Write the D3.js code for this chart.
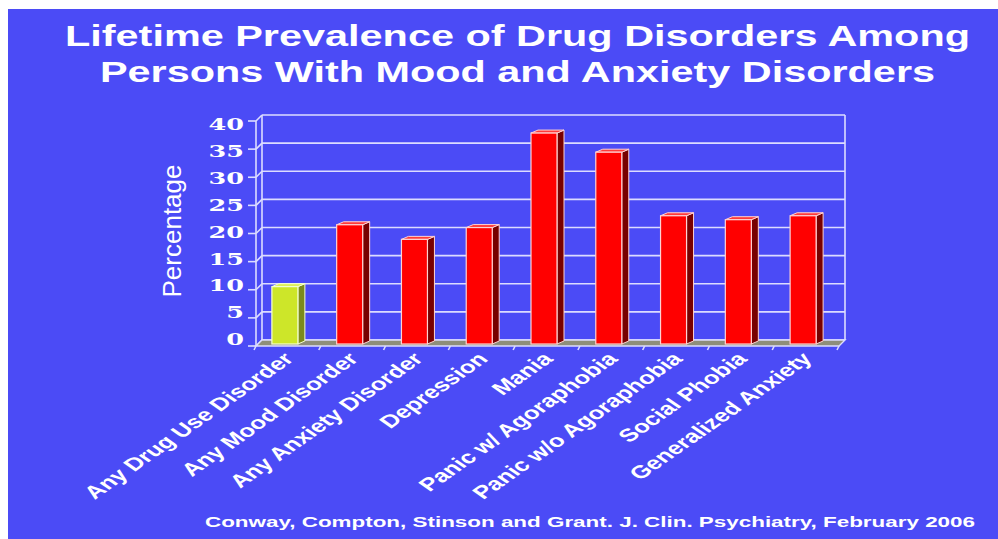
<!DOCTYPE html>
<html>
<head>
<meta charset="utf-8">
<script src="https://cdn.jsdelivr.net/npm/d3@7"></script>
<style>
  html, body { margin: 0; padding: 0; background: #ffffff; }
  svg { display: block; }
</style>
</head>
<body>
<svg id="chart" width="998" height="539"></svg>
<script>
// Lifetime prevalence (%) of any drug use disorder, overall and by mood/anxiety disorder
const categories = [
  "Any Drug Use Disorder", "Any Mood Disorder", "Any Anxiety Disorder",
  "Depression", "Mania", "Panic w/ Agoraphobia", "Panic w/o Agoraphobia",
  "Social Phobia", "Generalized Anxiety"
];
const values = [10.2, 21.2, 18.6, 20.7, 37.5, 34.1, 22.8, 22.1, 22.8];
const highlighted = ["Any Drug Use Disorder"];
const yTicks = [0, 5, 10, 15, 20, 25, 30, 35, 40];
const titleLines = [
  "Lifetime Prevalence of Drug Disorders Among",
  "Persons With Mood and Anxiety Disorders"
];
const sourceNote = "Conway, Compton, Stinson and Grant. J. Clin. Psychiatry, February 2006";
const yTitle = "Percentage";

const svg = d3.select("#chart");
const W = 998, H = 539;

const BG = "#4b4bf6";
const GRID = "#dcdcff";

// slide panel
svg.append("rect").attr("x", 8).attr("y", 9).attr("width", W - 8).attr("height", H - 9).attr("fill", BG);

// title
svg.append("g").selectAll("text").data(titleLines).join("text")
  .attr("x", (d, i) => i === 0 ? 65 : 100)
  .attr("y", (d, i) => i === 0 ? 46 : 81.5)
  .attr("textLength", (d, i) => i === 0 ? 905 : 835)
  .attr("lengthAdjust", "spacingAndGlyphs")
  .attr("font-family", "'Liberation Sans', Arial, sans-serif")
  .attr("font-weight", "bold")
  .attr("font-size", 29)
  .attr("fill", "#ffffff")
  .text(d => d);

// scales for the back wall of the 3-D plot
const x = d3.scaleBand().domain(categories).range([262, 845]);
const y = d3.scaleLinear().domain([0, 40]).range([340, 115]);
// tick labels sit along the front edge of the axis
const yLabel = d3.scaleLinear().domain([0, 40]).range([339, 124]);

const depth = { dx: -6, dy: 6 };       // back wall -> front edge of floor
const barShift = { dx: -9.5, dy: 4 };  // back wall -> bar front faces
const barDepth = { dx: 7, dy: -3 };    // bar front face -> bar back face
const barW = 26;

const [x0, x1] = x.range();
const gridG = svg.append("g").attr("stroke", GRID).attr("stroke-width", 1.6).attr("fill", "none");

// floor
svg.append("path")
  .attr("d", `M${x0},${y(0)} L${x1},${y(0)} L${x1 + depth.dx},${y(0) + depth.dy} L${x0 + depth.dx},${y(0) + depth.dy} Z`)
  .attr("fill", "#8e8e7a").attr("stroke", GRID).attr("stroke-width", 1.4);

// back wall gridlines
gridG.selectAll("line.h").data(yTicks).join("line")
  .attr("x1", x0).attr("x2", x1)
  .attr("y1", d => y(d)).attr("y2", d => y(d));
// back wall edges
gridG.append("line").attr("x1", x0).attr("x2", x0).attr("y1", y(40)).attr("y2", y(0));
gridG.append("line").attr("x1", x1).attr("x2", x1).attr("y1", y(40)).attr("y2", y(0));
// left side wall
gridG.append("line").attr("x1", x0 + depth.dx).attr("x2", x0 + depth.dx)
  .attr("y1", y(40) + depth.dy).attr("y2", y(0) + depth.dy);
gridG.selectAll("line.s").data(yTicks).join("line")
  .attr("x1", x0).attr("y1", d => y(d))
  .attr("x2", x0 + depth.dx).attr("y2", d => y(d) + depth.dy);
// axis ticks
gridG.selectAll("line.t").data(yTicks).join("line")
  .attr("x1", x0 + depth.dx).attr("y1", d => y(d) + depth.dy)
  .attr("x2", x0 + depth.dx - 8).attr("y2", d => y(d) + depth.dy);
// category ticks on the front edge of the floor
const bounds = categories.map(c => x(c)).concat([x1]);
gridG.selectAll("line.c").data(bounds).join("line")
  .attr("x1", d => d + depth.dx).attr("y1", y(0) + depth.dy)
  .attr("x2", d => d + depth.dx - 2).attr("y2", y(0) + depth.dy + 4);

// bars
const palette = {
  base: { front: "#ff0000", side: "#780000", top: "#ff3a3a", edge: "#ffd2d2" },
  hi:   { front: "#cde629", side: "#7b8a1c", top: "#dcef5a", edge: "#f4ffd0" }
};
const bars = svg.append("g").selectAll("g").data(categories.map((c, i) => ({ c, v: values[i] }))).join("g");
bars.each(function (d) {
  const g = d3.select(this);
  const col = highlighted.includes(d.c) ? palette.hi : palette.base;
  const cx = x(d.c) + x.bandwidth() / 2 + barShift.dx;
  const l = cx - barW / 2, r = cx + barW / 2;
  const t = y(d.v) + barShift.dy, b = y(0) + barShift.dy;
  const ddx = barDepth.dx, ddy = barDepth.dy;
  // right side face
  g.append("path")
    .attr("d", `M${r},${t} L${r + ddx},${t + ddy} L${r + ddx},${b + ddy} L${r},${b} Z`)
    .attr("fill", col.side).attr("stroke", col.edge).attr("stroke-width", 1);
  // top face
  g.append("path")
    .attr("d", `M${l},${t} L${r},${t} L${r + ddx},${t + ddy} L${l + ddx},${t + ddy} Z`)
    .attr("fill", col.top).attr("stroke", col.edge).attr("stroke-width", 1);
  // front face
  g.append("rect")
    .attr("x", l).attr("y", t).attr("width", barW).attr("height", b - t)
    .attr("fill", col.front).attr("stroke", col.edge).attr("stroke-width", 1.2);
});

// y tick labels
svg.append("g").selectAll("text").data(yTicks).join("text")
  .attr("transform", d => `translate(244,${yLabel(d)}) scale(1.5,1)`)
  .attr("text-anchor", "end")
  .attr("dy", "0.36em")
  .attr("font-family", "'DejaVu Serif', 'Liberation Serif', serif")
  .attr("font-weight", "bold")
  .attr("font-size", 17)
  .attr("fill", "#ffffff")
  .text(d => d);

// y axis title
svg.append("text")
  .attr("transform", "translate(181,231) rotate(-90)")
  .attr("text-anchor", "middle")
  .attr("font-family", "'Liberation Sans', Arial, sans-serif")
  .attr("font-size", 26)
  .attr("fill", "#ffffff")
  .text(yTitle);

// category labels, slanted
svg.append("g").selectAll("text").data(categories).join("text")
  .attr("transform", c => `translate(${x(c) + x.bandwidth() / 2 + barShift.dx + 10},360) scale(1.43,1) rotate(-45)`)
  .attr("text-anchor", "end")
  .attr("font-family", "'Liberation Sans', Arial, sans-serif")
  .attr("font-weight", "bold")
  .attr("font-size", 18)
  .attr("fill", "#ffffff")
  .text(c => c);

// source note
svg.append("text")
  .attr("x", 205).attr("y", 527)
  .attr("textLength", 770)
  .attr("lengthAdjust", "spacingAndGlyphs")
  .attr("font-family", "'Liberation Sans', Arial, sans-serif")
  .attr("font-weight", "bold")
  .attr("font-size", 15)
  .attr("fill", "#ffffff")
  .text(sourceNote);
</script>
</body>
</html>
